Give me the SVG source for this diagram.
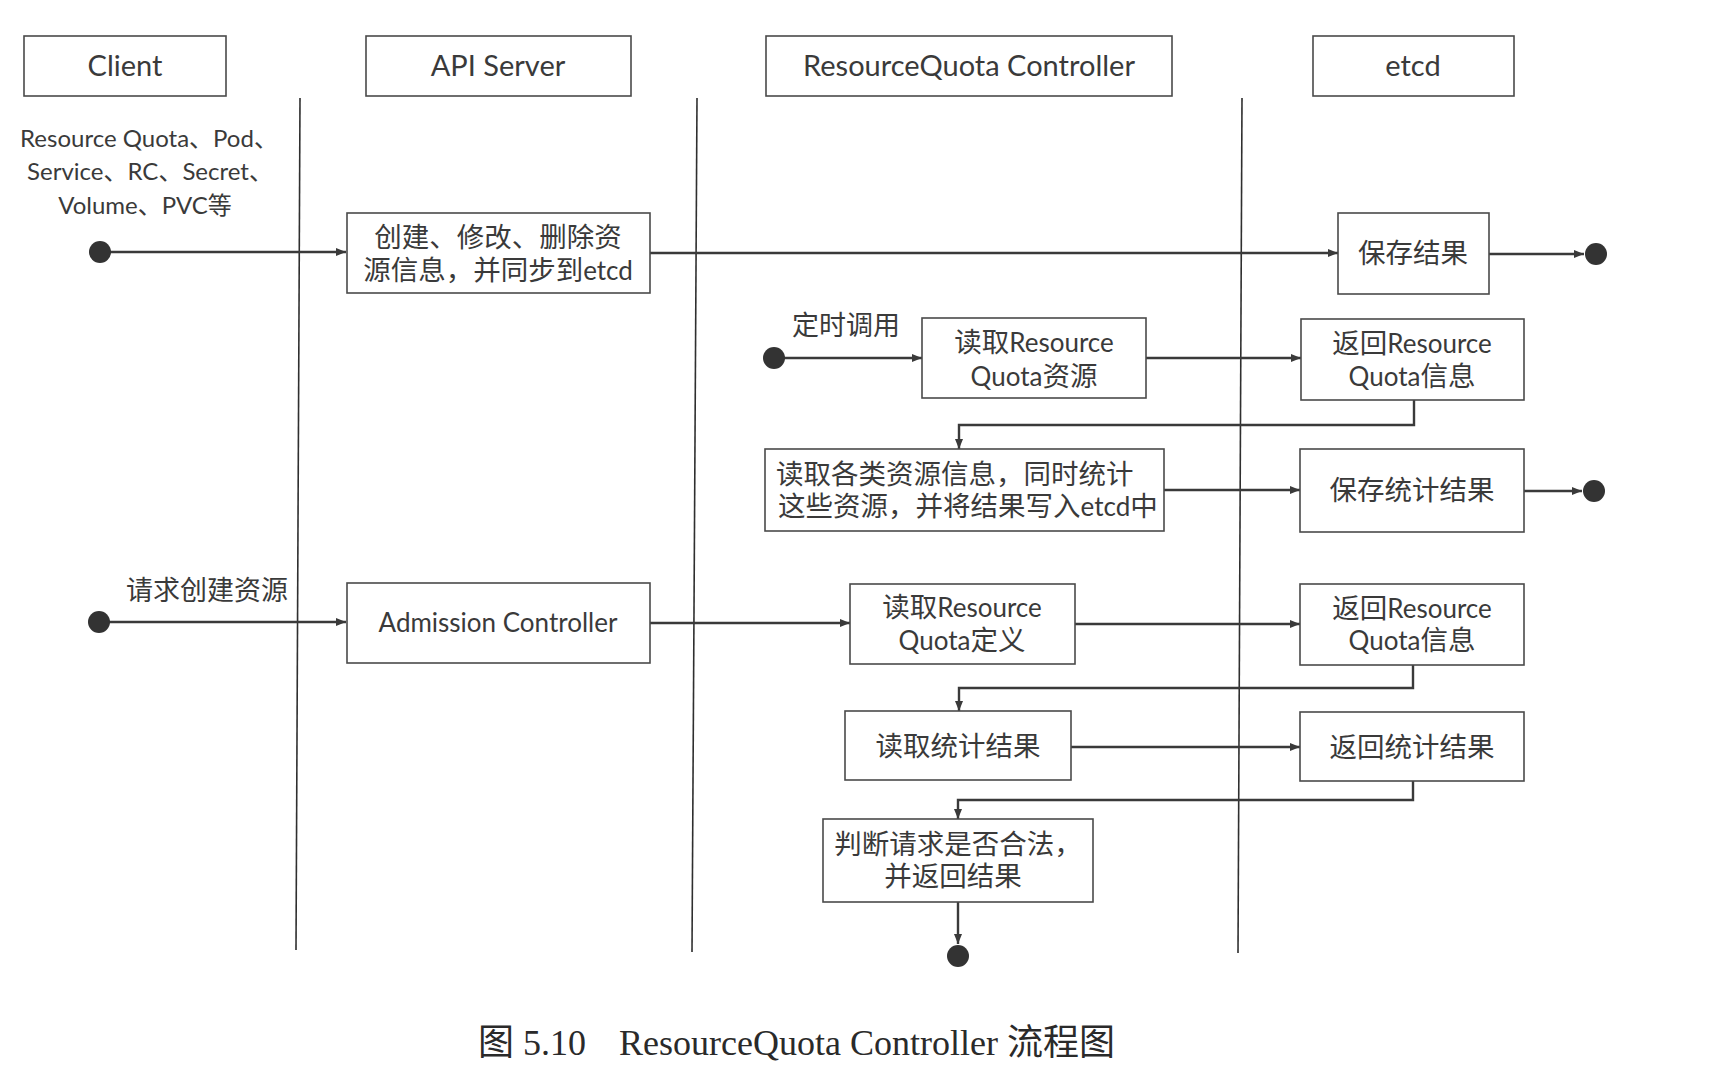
<svg xmlns="http://www.w3.org/2000/svg" width="1712" height="1080" viewBox="0 0 1712 1080">
<defs>
<marker id="ah" viewBox="0 0 10 10" refX="10" refY="5" markerWidth="10" markerHeight="10" markerUnits="userSpaceOnUse" orient="auto">
<path d="M0,1 L10,5 L0,9 Z" fill="#3a3a3a"/>
</marker>
<style>
.box{fill:#fff;stroke:#4a4a4a;stroke-width:1.6}
.t{font-family:Lato,"Open Sans","Noto Sans CJK SC",sans-serif;font-size:26px;fill:#3a3a3a;text-anchor:middle}
.cj{font-size:27.5px}
.h{font-size:29px}
.lbl{font-family:Lato,"Noto Sans CJK SC",sans-serif;font-size:27px;fill:#3a3a3a}
.lane{stroke:#2f2f2f;stroke-width:1.6}
.c{stroke:#3a3a3a;stroke-width:2.4;fill:none}
.dot{fill:#333}
.cap{font-family:"Liberation Serif","Noto Sans CJK SC",serif;font-size:36px;fill:#2a2a2a}
</style>
</defs>
<rect width="1712" height="1080" fill="#fff"/>

<g id="lanes">
<line class="lane" x1="300" y1="98" x2="296" y2="950"/>
<line class="lane" x1="697" y1="98" x2="692" y2="952"/>
<line class="lane" x1="1242" y1="98" x2="1238" y2="953"/>
</g>

<g id="hdr-client"><rect class="box" x="24" y="36" width="202" height="60"/><text class="t h" x="125" y="76">Client</text></g>
<g id="hdr-api"><rect class="box" x="366" y="36" width="265" height="60"/><text class="t h" x="498" y="76">API Server</text></g>
<g id="hdr-rqc"><rect class="box" x="766" y="36" width="406" height="60"/><text class="t h" x="969" y="76">ResourceQuota Controller</text></g>
<g id="hdr-etcd"><rect class="box" x="1313" y="36" width="201" height="60"/><text class="t h" x="1413" y="76">etcd</text></g>

<g id="note-resources">
<text class="t" style="font-size:24px" x="149" y="147">Resource Quota、Pod、</text>
<text class="t" style="font-size:24px" x="150" y="180">Service、RC、Secret、</text>
<text class="t" style="font-size:24px" x="145" y="214">Volume、PVC等</text>
</g>

<g id="connectors">
<line class="c" x1="110" y1="252" x2="346" y2="252" marker-end="url(#ah)"/>
<line class="c" x1="650" y1="253" x2="1338" y2="253" marker-end="url(#ah)"/>
<line class="c" x1="1489" y1="254" x2="1584" y2="254" marker-end="url(#ah)"/>
<line class="c" x1="784" y1="358" x2="922" y2="358" marker-end="url(#ah)"/>
<line class="c" x1="1146" y1="358" x2="1301" y2="358" marker-end="url(#ah)"/>
<polyline class="c" points="1414,400 1414,425 959,425 959,449" marker-end="url(#ah)"/>
<line class="c" x1="1164" y1="490" x2="1300" y2="490" marker-end="url(#ah)"/>
<line class="c" x1="1524" y1="491" x2="1582" y2="491" marker-end="url(#ah)"/>
<line class="c" x1="109" y1="622" x2="346" y2="622" marker-end="url(#ah)"/>
<line class="c" x1="650" y1="623" x2="850" y2="623" marker-end="url(#ah)"/>
<line class="c" x1="1075" y1="624" x2="1300" y2="624" marker-end="url(#ah)"/>
<polyline class="c" points="1413,665 1413,688 959,688 959,711" marker-end="url(#ah)"/>
<line class="c" x1="1071" y1="747" x2="1300" y2="747" marker-end="url(#ah)"/>
<polyline class="c" points="1413,781 1413,800 958,800 958,819" marker-end="url(#ah)"/>
<line class="c" x1="958" y1="902" x2="958" y2="944" marker-end="url(#ah)"/>
</g>

<g id="start1"><circle class="dot" cx="100" cy="252" r="11"/></g>
<g id="n-create"><rect class="box" x="347" y="213" width="303" height="80"/><text class="t cj" x="498" y="247">创建、修改、删除资</text><text class="t" x="498" y="280"><tspan class="cj">源信息，并同步到</tspan>etcd</text></g>
<g id="n-save"><rect class="box" x="1338" y="213" width="151" height="81"/><text class="t cj" x="1413" y="263">保存结果</text></g>
<g id="end1"><circle class="dot" cx="1596" cy="254" r="11"/></g>

<g id="lbl-timer"><text class="lbl" x="792" y="335">定时调用</text></g>
<g id="start2"><circle class="dot" cx="774" cy="358" r="11"/></g>
<g id="n-read-rq"><rect class="box" x="922" y="318" width="224" height="80"/><text class="t" x="1034" y="352"><tspan class="cj">读取</tspan>Resource</text><text class="t" x="1034" y="386">Quota<tspan class="cj">资源</tspan></text></g>
<g id="n-ret-rq1"><rect class="box" x="1301" y="319" width="223" height="81"/><text class="t" x="1412" y="353"><tspan class="cj">返回</tspan>Resource</text><text class="t" x="1412" y="386">Quota<tspan class="cj">信息</tspan></text></g>
<g id="n-stat"><rect class="box" x="765" y="449" width="399" height="82"/><text class="t cj" style="text-anchor:start" x="776" y="484">读取各类资源信息，同时统计</text><text class="t" style="text-anchor:start" x="778" y="516"><tspan class="cj">这些资源，并将结果写入</tspan>etcd<tspan class="cj">中</tspan></text></g>
<g id="n-save-stat"><rect class="box" x="1300" y="449" width="224" height="83"/><text class="t cj" x="1412" y="500">保存统计结果</text></g>
<g id="end2"><circle class="dot" cx="1594" cy="491" r="11"/></g>

<g id="lbl-req"><text class="lbl" x="126" y="600">请求创建资源</text></g>
<g id="start3"><circle class="dot" cx="99" cy="622" r="11"/></g>
<g id="n-admission"><rect class="box" x="347" y="583" width="303" height="80"/><text class="t" x="498" y="632">Admission Controller</text></g>
<g id="n-read-def"><rect class="box" x="850" y="584" width="225" height="80"/><text class="t" x="962" y="617"><tspan class="cj">读取</tspan>Resource</text><text class="t" x="962" y="650">Quota<tspan class="cj">定义</tspan></text></g>
<g id="n-ret-rq2"><rect class="box" x="1300" y="584" width="224" height="81"/><text class="t" x="1412" y="618"><tspan class="cj">返回</tspan>Resource</text><text class="t" x="1412" y="650">Quota<tspan class="cj">信息</tspan></text></g>
<g id="n-read-res"><rect class="box" x="845" y="711" width="226" height="69"/><text class="t cj" x="958" y="756">读取统计结果</text></g>
<g id="n-ret-res"><rect class="box" x="1300" y="712" width="224" height="69"/><text class="t cj" x="1412" y="757">返回统计结果</text></g>
<g id="n-judge"><rect class="box" x="823" y="819" width="270" height="83"/><text class="t cj" x="958" y="854">判断请求是否合法，</text><text class="t cj" x="953" y="886">并返回结果</text></g>
<g id="end3"><circle class="dot" cx="958" cy="956" r="11"/></g>

<g id="caption">
<text class="cap" x="478" y="1055">图 5.10</text>
<text class="cap" x="619" y="1055">ResourceQuota Controller 流程图</text>
</g>
</svg>
